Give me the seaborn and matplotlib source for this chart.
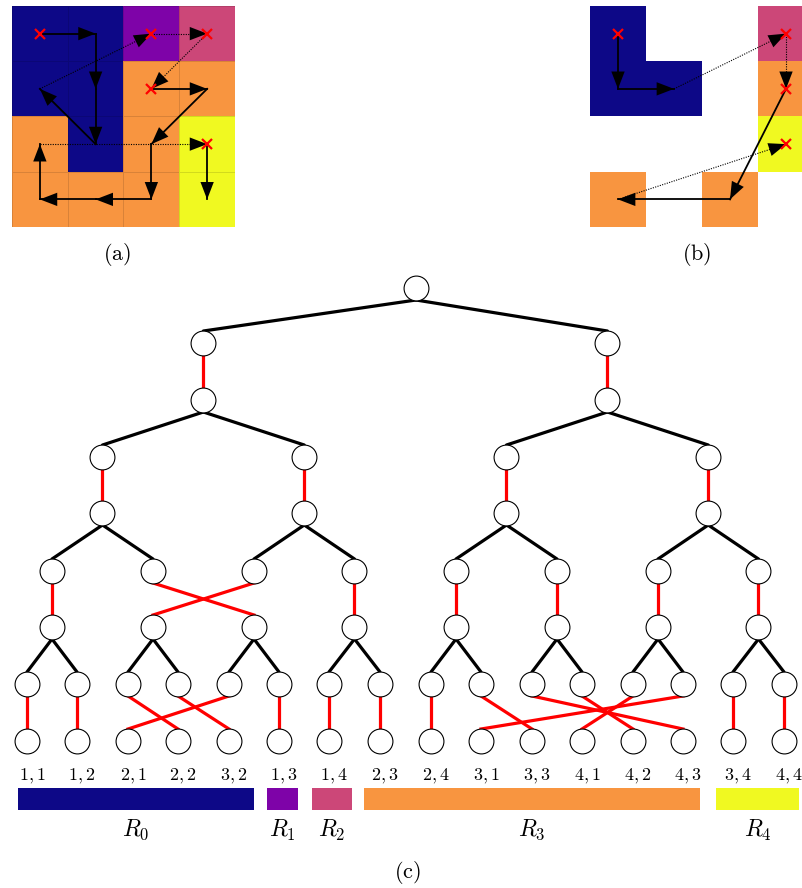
import numpy as np
import matplotlib
matplotlib.use("Agg")
import matplotlib.pyplot as plt
import seaborn as sns

plt.rcParams["mathtext.fontset"] = "cm"

nan = np.nan

# region index of every cell, panel (a)
grid_a = [[0, 0, 1, 2],
          [0, 0, 3, 3],
          [3, 0, 3, 4],
          [3, 3, 3, 4]]

# panel (b): only some cells kept
grid_b = [[0, nan, nan, 2],
          [0, 0, nan, 3],
          [nan, nan, nan, 4],
          [3, nan, 3, nan]]

# walks over the cells: (from row, from col, to row, to col, dotted?)
walk_a = [(0, 0, 0, 1, False), (0, 1, 1, 1, False), (1, 1, 2, 1, False), (2, 1, 1, 0, False),
          (1, 0, 0, 2, True), (0, 2, 0, 3, True), (0, 3, 1, 2, True),
          (1, 2, 1, 3, False), (1, 3, 2, 2, False), (2, 2, 3, 2, False), (3, 2, 3, 1, False),
          (3, 1, 3, 0, False), (3, 0, 2, 0, False),
          (2, 0, 2, 3, True), (2, 3, 3, 3, False)]
starts_a = [(0, 0), (0, 2), (0, 3), (1, 2), (2, 3)]

walk_b = [(0, 0, 1, 0, False), (1, 0, 1, 1, False),
          (1, 1, 0, 3, True), (0, 3, 1, 3, True),
          (1, 3, 3, 2, False), (3, 2, 3, 0, False),
          (3, 0, 2, 3, True)]
starts_b = [(0, 0), (0, 3), (1, 3), (2, 3)]

# tree (c)
leaf_x = [27, 77, 128, 178, 229, 279, 329, 380, 431, 481, 532, 582, 633, 683, 733, 784]
root_x = 416
level_y = [288, 343, 400, 457, 513, 571, 627, 684, 741]
swap_l3 = [0, 2, 1, 3, 4, 5, 6, 7]
swap_l4 = [0, 1, 3, 4, 2, 5, 6, 7, 8, 10, 13, 12, 11, 9, 14, 15]
leaf_labels = ["1,1", "1,2", "2,1", "2,2", "3,2", "1,3", "1,4", "2,3",
               "2,4", "3,1", "3,3", "4,1", "4,2", "4,3", "3,4", "4,4"]

region_names = ["R_0", "R_1", "R_2", "R_3", "R_4"]
bar_left = [18, 267, 312, 364, 716]
bar_right = [254, 298, 352, 700, 799]

cmap = plt.get_cmap("plasma")

fig = plt.figure(figsize=(8.03, 8.88), dpi=100)
ax = fig.add_axes([0, 0, 1, 1])


def draw_walk(a, walk, starts):
    for r0, c0, r1, c1, dotted in walk:
        x0, y0, x1, y1 = c0 + .5, r0 + .5, c1 + .5, r1 + .5
        if dotted:
            a.plot([x0, x1], [y0, y1], color="black", lw=0.8, ls=(0, (1, 1.2)))
        else:
            a.plot([x0, x1], [y0, y1], color="black", lw=1.3)
        a.annotate("", xy=(x1, y1), xytext=(x0, y0),
                   arrowprops=dict(arrowstyle="-|>,head_length=12.5,head_width=4.8",
                                   mutation_scale=1, color="black", lw=0,
                                   shrinkA=0, shrinkB=0))
    for r, c in starts:
        a.plot(c + .5, r + .5, marker="x", color="red", ms=6.5, mew=1.6, zorder=5)


# panel (a)
ax_a = fig.add_axes([12 / 803, 1 - 227 / 888, 223 / 803, 221 / 888])
sns.heatmap(np.array(grid_a, dtype=float), cmap="plasma", vmin=0, vmax=4, cbar=False,
            linewidths=0.6, linecolor=(0, 0, 0, 0.12), ax=ax_a)
draw_walk(ax_a, walk_a, starts_a)
ax_a.set_axis_off()

# panel (b)
gb = np.array(grid_b, dtype=float)
ax_b = fig.add_axes([590 / 803, 1 - 227 / 888, 224 / 803, 221 / 888])
sns.heatmap(gb, mask=np.isnan(gb), cmap="plasma", vmin=0, vmax=4, cbar=False,
            linewidths=0, ax=ax_b)
draw_walk(ax_b, walk_b, starts_b)
ax_b.set_axis_off()

# tree layout
x4 = np.array(leaf_x, dtype=float)
x3 = x4.reshape(-1, 2).mean(axis=1)
x2 = x3.reshape(-1, 2).mean(axis=1)
x1 = x2.reshape(-1, 2).mean(axis=1)
x0 = np.array([root_x], dtype=float)
rows = [x0, x1, x1, x2, x2, x3, x3, x4, x4]
rad = 12
lw_edge = 2.3

# black edges: parent -> two children
for p, c in [(0, 1), (2, 3), (4, 5), (6, 7)]:
    for j, px in enumerate(rows[p]):
        for k in (2 * j, 2 * j + 1):
            ax.plot([px, rows[c][k]], [level_y[p] + rad, level_y[c] - rad],
                    color="black", lw=lw_edge, solid_capstyle="round", zorder=1)

# red edges: node -> node below
for p, perm in [(1, range(2)), (3, range(4)), (5, swap_l3), (7, swap_l4)]:
    for j, k in enumerate(perm):
        ax.plot([rows[p][j], rows[p + 1][k]], [level_y[p] + rad, level_y[p + 1] - rad],
                color="red", lw=lw_edge, zorder=1)

node_x = np.concatenate(rows)
node_y = np.concatenate([[y] * len(r) for y, r in zip(level_y, rows)])
sns.scatterplot(x=node_x, y=node_y, s=320, color="white", edgecolor="black",
                linewidth=0.8, ax=ax, zorder=3, legend=False)

for x, lab in zip(leaf_x, leaf_labels):
    ax.text(x + 5, 776, f"${lab}$", ha="center", va="center", fontsize=13)

for i, (l, r) in enumerate(zip(bar_left, bar_right)):
    ax.barh(799, r - l, left=l, height=22, color=cmap(i / 4))
    ax.text((l + r) / 2, 830, f"${region_names[i]}$", ha="center", va="center", fontsize=17)

ax.text(117, 254, r"$\mathrm{(a)}$", ha="center", va="center", fontsize=16)
ax.text(697, 254, r"$\mathrm{(b)}$", ha="center", va="center", fontsize=16)
ax.text(407, 872, r"$\mathrm{(c)}$", ha="center", va="center", fontsize=16)

ax.set_xlim(0, 803)
ax.set_ylim(888, 0)
ax.set_axis_off()

fig.savefig("out.png", dpi=100)
